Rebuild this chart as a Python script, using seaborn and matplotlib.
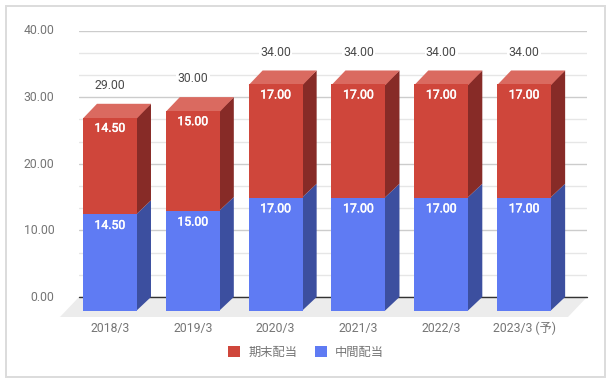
import matplotlib
matplotlib.use('Agg')
import matplotlib.pyplot as plt
import matplotlib.patheffects as pe
from matplotlib.patches import Polygon, Rectangle
from matplotlib.transforms import Affine2D
import seaborn as sns
import pandas as pd

years = ['2018/3', '2019/3', '2020/3', '2021/3', '2022/3', '2023/3 (予)']
interim = [14.5, 15.0, 17.0, 17.0, 17.0, 17.0]
year_end = [14.5, 15.0, 17.0, 17.0, 17.0, 17.0]
totals = [29.0, 30.0, 34.0, 34.0, 34.0, 34.0]

RED, RED_TOP, RED_SIDE = '#cf463b', '#da6a60', '#872b27'
BLUE, BLUE_SIDE = '#5f7bf3', '#3c4f9f'
DEPTH_PX = 14

if __name__ == "__main__":
    sns.set_theme(style='white')
    plt.rcParams['font.family'] = ['Roboto', 'Noto Sans CJK JP', 'DejaVu Sans']

    W, H = 611, 382
    fig = plt.figure(figsize=(W / 100, H / 100), dpi=100)
    ax = fig.add_axes([79 / W, 1 - 297 / H, 508 / W, 266.5 / H])

    df = pd.DataFrame({'year': years, 'interim': interim, 'total': totals})
    bar_w = 54 / 82.8
    sns.barplot(data=df, x='year', y='total', color=RED, saturation=1, width=bar_w, ax=ax, zorder=4)
    sns.barplot(data=df, x='year', y='interim', color=BLUE, saturation=1, width=bar_w, ax=ax, zorder=4)

    ax.set_xlim(-0.543, 5.59)
    ax.set_ylim(0, 40)
    px_x = 82.8
    px_y = 266.5 / 40
    dx = DEPTH_PX / px_x
    dy = DEPTH_PX / px_y

    # front faces sit in front of the back wall, so push them down-left
    shift = ax.transData + Affine2D().translate(-DEPTH_PX, -DEPTH_PX)
    for p in ax.patches:
        p.set_transform(shift)
        p.set_clip_on(False)
        p.set_linewidth(0)

    # side and top faces
    for i, (low, top) in enumerate(zip(interim, totals)):
        left = i - bar_w / 2
        right = i + bar_w / 2
        for y0, y1, col in [(0, low, BLUE_SIDE), (low, top, RED_SIDE)]:
            ax.add_patch(Polygon([(right - dx - 0.01, y0 - dy), (right, y0), (right, y1), (right - dx - 0.01, y1 - dy)],
                                 closed=True, fc=col, lw=0, zorder=3, clip_on=False))
        ax.add_patch(Polygon([(left - dx, top - dy - 0.1), (left, top), (right, top), (right - dx, top - dy - 0.1)],
                             closed=True, fc=RED_TOP, lw=0, zorder=3, clip_on=False))

    # floor
    xa, xb = ax.get_xlim()
    floor_drop = 20 / px_y
    floor_dx = 19 / px_x
    ax.add_patch(Polygon([(xa, 0), (xb, 0), (xb - floor_dx, -floor_drop), (xa - floor_dx, -floor_drop)],
                         closed=True, fc='#ececec', lw=0, zorder=0, clip_on=False))

    # gridlines
    ax.set_yticks([0, 10, 20, 30, 40])
    ax.set_yticklabels(['%.2f' % v for v in [0, 10, 20, 30, 40]])
    ax.set_yticks([v * 10 / 3 for v in range(1, 12) if v % 3 != 0], minor=True)
    ax.grid(axis='y', which='major', color='#cccccc', lw=1, zorder=1)
    ax.grid(axis='y', which='minor', color='#e6e6e6', lw=1, zorder=1)
    ax.set_axisbelow(True)
    ax.axhline(0, color='#333333', lw=1, zorder=2, clip_on=False)

    sns.despine(ax=ax, top=True, right=True, left=True, bottom=True)
    ax.set_xlabel('')
    ax.set_ylabel('')
    ax.tick_params(axis='y', which='both', length=0, pad=18, labelsize=8.8, labelcolor='#757575')
    ax.tick_params(axis='x', which='both', length=0, pad=17.7, labelsize=8.8, labelcolor='#757575')
    for lab in ax.get_xticklabels():
        lab.set_transform(lab.get_transform() + Affine2D().translate(-DEPTH_PX, 0))
    for lab in ax.get_yticklabels():
        lab.set_transform(lab.get_transform() + Affine2D().translate(0.5, 1))

    # value labels
    stroke = [pe.withStroke(linewidth=0.35, foreground='white')]
    for i, (low, up, top) in enumerate(zip(interim, year_end, totals)):
        fx, fy = i - dx, top - dy
        ax.annotate('%.2f' % top, (fx, fy), xytext=(0, 32.4 * 0.72), textcoords='offset points',
                    ha='center', va='center', fontsize=8.8, color='#4a4a4a', zorder=5, annotation_clip=False,
                    bbox=dict(fc='white', ec='none', pad=1))
        ax.annotate('%.2f' % up, (fx, fy), xytext=(0, -10.5 * 0.72), textcoords='offset points',
                    ha='center', va='center', fontsize=8.8, color='white', zorder=6,
                    annotation_clip=False, path_effects=stroke)
        ax.annotate('%.2f' % low, (fx, low - dy), xytext=(0, -11 * 0.72), textcoords='offset points',
                    ha='center', va='center', fontsize=8.8, color='white', zorder=6,
                    annotation_clip=False, path_effects=stroke)

    handles = [Rectangle((0, 0), 1, 1, fc=RED, lw=0), Rectangle((0, 0), 1, 1, fc=BLUE, lw=0)]
    fig.legend(handles, ['期末配当', '中間配当'], loc='center', bbox_to_anchor=(306 / W, 1 - 352 / H),
               ncol=2, frameon=False, fontsize=8.8, labelcolor='#757575', handlelength=1.0, handleheight=1.0,
               handletextpad=0.67, columnspacing=1.4, borderpad=0, borderaxespad=0)

    # outer frame of the picture
    fig.add_artist(Rectangle((5.5 / W, 1 - 377 / H), 599 / W, 371.5 / H, transform=fig.transFigure,
                             fc='none', ec='#dcdcdc', lw=1.4))

    fig.savefig('out.png', dpi=100)
